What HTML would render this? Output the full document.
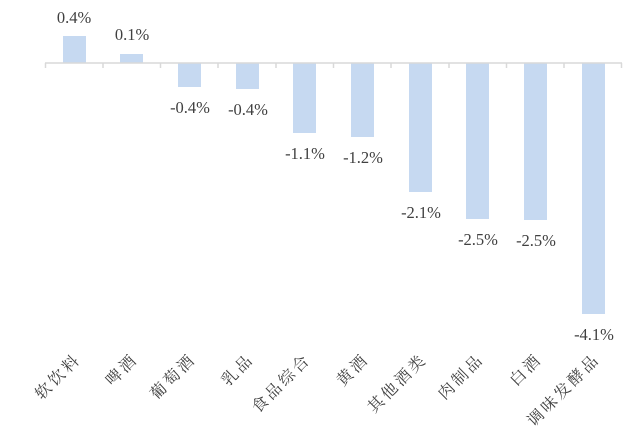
<!DOCTYPE html>
<html><head><meta charset="utf-8"><style>body{margin:0;background:#fff}</style></head><body>
<svg width="642" height="437" xmlns="http://www.w3.org/2000/svg">
<g fill="#c6d9f1">
<rect x="63" y="36" width="23" height="27"/>
<rect x="120" y="54" width="23" height="9"/>
<rect x="178" y="63" width="23" height="24"/>
<rect x="236" y="63" width="23" height="26"/>
<rect x="293" y="63" width="23" height="70"/>
<rect x="351" y="63" width="23" height="74"/>
<rect x="409" y="63" width="23" height="129"/>
<rect x="466" y="63" width="23" height="156"/>
<rect x="524" y="63" width="23" height="157"/>
<rect x="582" y="63" width="23" height="251"/>
</g>
<g stroke="#d9d9d9" stroke-width="1.5">
<line x1="45" y1="63" x2="622" y2="63"/>
<line x1="45.5" y1="63" x2="45.5" y2="68"/><line x1="103" y1="63" x2="103" y2="68"/><line x1="160.5" y1="63" x2="160.5" y2="68"/><line x1="218" y1="63" x2="218" y2="68"/><line x1="276" y1="63" x2="276" y2="68"/><line x1="333.5" y1="63" x2="333.5" y2="68"/><line x1="391" y1="63" x2="391" y2="68"/><line x1="449" y1="63" x2="449" y2="68"/><line x1="506.5" y1="63" x2="506.5" y2="68"/><line x1="564" y1="63" x2="564" y2="68"/><line x1="621.5" y1="63" x2="621.5" y2="68"/>
</g>
<g font-family="Liberation Serif, serif" font-size="16.5" fill="#404040" text-anchor="middle">
<text x="74" y="23">0.4%</text><text x="132" y="40">0.1%</text>
<text x="190" y="113">-0.4%</text><text x="248" y="115">-0.4%</text>
<text x="305" y="159">-1.1%</text><text x="363" y="163">-1.2%</text>
<text x="421" y="218">-2.1%</text><text x="478" y="245">-2.5%</text>
<text x="536" y="246">-2.5%</text><text x="594" y="340">-4.1%</text>
</g>
<g font-family="Noto Serif CJK SC, serif" font-size="16" letter-spacing="3" fill="#404040" text-anchor="end">
<text transform="translate(82,360) rotate(-45)">软饮料</text>
<text transform="translate(139,360) rotate(-45)">啤酒</text>
<text transform="translate(197,360) rotate(-45)">葡萄酒</text>
<text transform="translate(255,360) rotate(-45)">乳品</text>
<text transform="translate(312,360) rotate(-45)">食品综合</text>
<text transform="translate(370,360) rotate(-45)">黄酒</text>
<text transform="translate(428,360) rotate(-45)">其他酒类</text>
<text transform="translate(485,360) rotate(-45)">肉制品</text>
<text transform="translate(543,360) rotate(-45)">白酒</text>
<text transform="translate(601,360) rotate(-45)">调味发酵品</text>
</g>
</svg>
</body></html>
